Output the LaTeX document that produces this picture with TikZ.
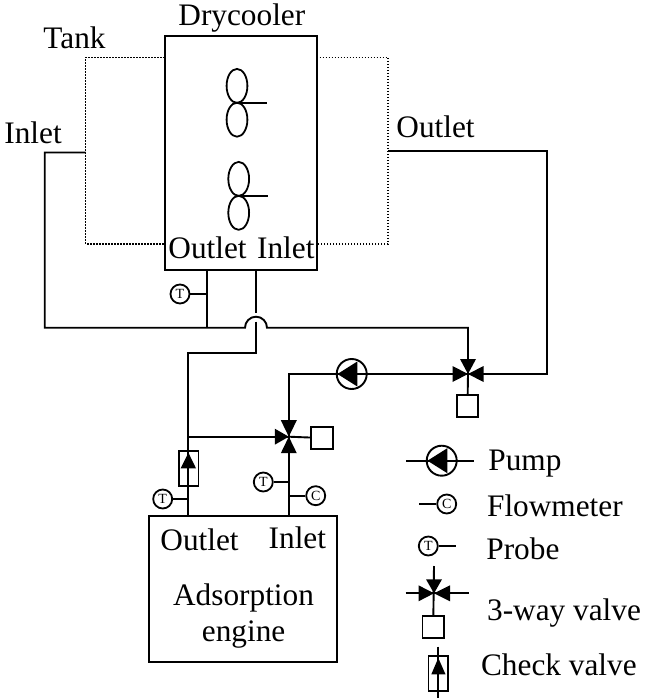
\documentclass[tikz,border=0pt]{standalone}
\usepackage{fontspec}
\setmainfont{Liberation Serif}
\usetikzlibrary{shapes.geometric,positioning}
\tikzset{
    pipe/.style={line width=0.95pt},
    tankline/.style={line width=0.7pt, dash pattern=on 0.7pt off 0.8pt},
    txt/.style={anchor=base west, inner sep=0pt, font=\fontsize{15.65}{18}\selectfont},
    unitbox/.style={draw, line width=1pt, rectangle, inner sep=0pt},
    actbox/.style={draw, line width=0.9pt, rectangle, minimum size=10.8pt, inner sep=0pt},
    fan/.style={draw, line width=0.9pt, ellipse, minimum width=10.4pt, minimum height=17pt, inner sep=0pt},
    gauge/.style={draw, line width=0.9pt, circle, minimum size=9.5pt, inner sep=0pt, font=\fontsize{7}{7}\selectfont},
    pumpc/.style={draw, line width=0.95pt, circle, minimum size=15pt, inner sep=0pt},
    checkbox/.style={draw, line width=0.9pt, rectangle, minimum width=9.8pt, minimum height=17.5pt, inner sep=0pt}
}
\begin{document}
\begin{tikzpicture}[x=0.5pt,y=-0.5pt]
    \useasboundingbox (0,0) rectangle (645,700);

    % Drycooler and tank
    \draw[tankline] (164.5,57.3) -- (85.7,57.3) -- (85.7,244) -- (164.5,244);
    \draw[tankline] (316.7,57.3) -- (388,57.3) -- (388,244) -- (316.7,244);
    \node[unitbox, minimum width=76.1pt, minimum height=117pt] (dry) at (240.6,153) {};
    \node[txt] (dryT) at (178,26) {Drycooler};
    \node[txt] (tankT) at (43,49) {Tank};
    \node[txt] (dryOutT) at (168,258.3) {Outlet};
    \node[txt] (dryInT) at (256.7,258.3) {Inlet};
    \node[txt] (tankInT) at (4,143.3) {Inlet};
    \node[txt] (tankOutT) at (396,137.3) {Outlet};

    \node[fan] (fanA) at (237,85.9) {};
    \node[fan] (fanB) at (237,119.7) {};
    \coordinate (hubA) at (237,102.7);
    \coordinate (tipA) at (266.7,102.7);
    \draw[pipe] (hubA) -- (tipA);
    \node[fan] (fanC) at (238.7,178.9) {};
    \node[fan] (fanD) at (238.7,212.8) {};
    \coordinate (hubC) at (238.7,195.7);
    \coordinate (tipC) at (268,195.7);
    \draw[pipe] (hubC) -- (tipC);

    % Valves, pump, engine
    \coordinate (valveA) at (468,374);
    \coordinate (valveB) at (288.8,436.7);
    \node[actbox] (boxA) at (467.5,405.8) {};
    \node[actbox] (boxB) at (322,438) {};
    \node[pumpc] (pump) at (351.7,374) {};
    \node[unitbox, minimum width=93.8pt, minimum height=73pt] (engine) at (243.2,589.3) {};
    \node[checkbox] (check) at (188.6,468.5) {};
    \node[txt] (engOutT) at (160,550) {Outlet};
    \node[txt] (engInT) at (268.3,548) {Inlet};
    \node[txt] (engT) at (172.7,605) {Adsorption};
    \node[txt] (engU) at (201.5,641.7) {engine};

    % Pipes
    \coordinate (tankIn) at (85.7,152.5);
    \coordinate (mainL) at (44.7,327.7);
    \coordinate (bridgeL) at (245,327.7);
    \coordinate (bridgeR) at (267,327.7);
    \coordinate (tankOut) at (388,151);
    \coordinate (outC) at (547,151);
    \coordinate (dryOut) at (207.3,270);
    \coordinate (dryOutJ) at (207.3,327.7);
    \coordinate (dryIn) at (256,270);
    \coordinate (gapA) at (256,313.3);
    \coordinate (gapB) at (256,321.7);
    \coordinate (riseC) at (188.3,352.7);
    \coordinate (engOut) at (188.3,516.3);
    \coordinate (branch) at (188.3,436.7);
    \coordinate (engIn) at (288.8,516.3);

    \draw[pipe] (tankIn) -| (mainL) -- (bridgeL) arc (180:360:11) -- (bridgeR) -| (valveA);
    \draw[pipe] (tankOut) -- (outC) |- (valveA);
    \draw[pipe] (dryOut) -- (dryOutJ);
    \draw[pipe] (dryIn) -- (gapA);
    \draw[pipe] (gapB) |- (riseC) -- (engOut);
    \draw[pipe] (branch) -- (valveB);
    \draw[pipe] (pump.west) -- (pump.east);
    \draw[pipe] (pump) -- (valveA);
    \draw[pipe] (pump) -| (valveB);
    \draw[pipe] (valveA) -- (boxA);
    \draw[pipe] (valveB) -- (boxB);
    \draw[pipe] (valveB) -- (engIn);

    % Valve tips
    \fill (valveA) -- ++(-8,-15) -- ++(16,0) -- cycle;
    \fill (valveA) -- ++(-15.5,-8) -- ++(0,16) -- cycle;
    \fill (valveA) -- ++(15.5,-8) -- ++(0,16) -- cycle;
    \fill (valveB) -- ++(-8,-16.5) -- ++(16,0) -- cycle;
    \fill (valveB) -- ++(-14,-8) -- ++(0,16) -- cycle;
    \fill (valveB) -- ++(-8,16.5) -- ++(16,0) -- cycle;
    \fill (337.5,374) -- (357.3,361.5) -- (357.3,386.5) -- cycle;
    \fill (188.4,452.7) -- (180.7,468.3) -- (196,468.3) -- cycle;

    % Sensors
    \node[gauge] (probeA) at (180,294) {T};
    \node[gauge] (probeB) at (162.7,499) {T};
    \node[gauge] (probeC) at (263.3,482) {T};
    \node[gauge] (meterA) at (315.7,495.7) {C};
    \draw[pipe] (probeA) -- (probeA -| dryOut);
    \draw[pipe] (probeB) -- (probeB -| engOut);
    \draw[pipe] (probeC) -- (probeC -| engIn);
    \draw[pipe] (meterA) -- (meterA -| engIn);

    % Legend
    \node[pumpc] (legPump) at (441.7,460.7) {};
    \coordinate (legPumpL) at (406,460.7);
    \coordinate (legPumpR) at (474.3,460.7);
    \draw[pipe] (legPumpL) -- (legPump) -- (legPumpR);
    \draw[pipe] (legPump.west) -- (legPump.east);
    \fill (427.5,460.7) -- (447.3,448.2) -- (447.3,473.2) -- cycle;
    \node[txt] (legPumpT) at (488,470.7) {Pump};

    \node[gauge] (legMeter) at (446.7,504) {C};
    \coordinate (legMeterL) at (419.3,504);
    \draw[pipe] (legMeterL) -- (legMeter);
    \node[txt] (legMeterT) at (486.7,516) {Flowmeter};

    \node[gauge] (legProbe) at (428.3,546) {T};
    \coordinate (legProbeR) at (455.7,546);
    \draw[pipe] (legProbe) -- (legProbeR);
    \node[txt] (legProbeT) at (486,559) {Probe};

    \coordinate (legValve) at (434,593.3);
    \coordinate (legValveU) at (434,566);
    \coordinate (legValveL) at (405.7,593.3);
    \coordinate (legValveR) at (469.3,593.3);
    \node[actbox] (legBox) at (433.2,626.8) {};
    \draw[pipe] (legValveU) -- (legBox);
    \draw[pipe] (legValveL) -- (legValveR);
    \fill (legValve) -- ++(-8,-14) -- ++(16,0) -- cycle;
    \fill (legValve) -- ++(-15.5,-8) -- ++(0,16) -- cycle;
    \fill (legValve) -- ++(16,-8) -- ++(0,16) -- cycle;
    \node[txt] (legValveT) at (486.7,620.7) {3-way valve};

    \node[checkbox] (legCheck) at (438.3,673.5) {};
    \coordinate (legCheckU) at (438.3,646.7);
    \coordinate (legCheckD) at (438.3,698.3);
    \draw[pipe] (legCheckU) -- (legCheckD);
    \fill (438.3,658) -- (431.3,674.3) -- (445.5,674.3) -- cycle;
    \node[txt] (legCheckT) at (480.7,675) {Check valve};
\end{tikzpicture}
\end{document}
